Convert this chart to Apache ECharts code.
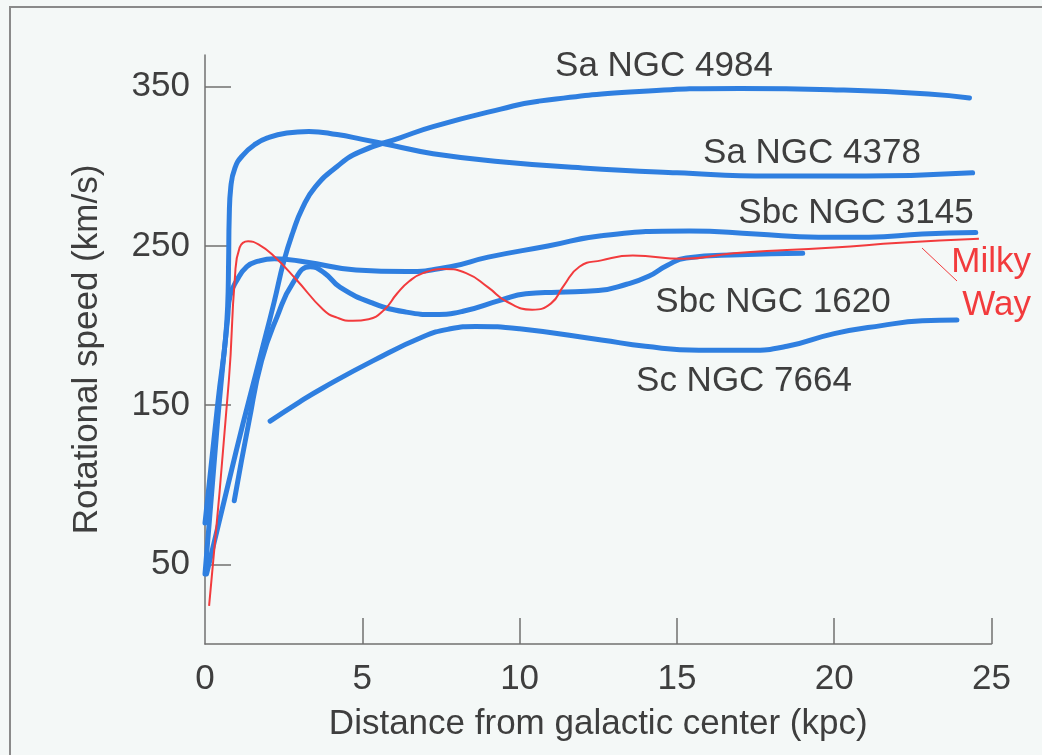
<!DOCTYPE html>
<html><head><meta charset="utf-8">
<script src="https://cdn.jsdelivr.net/npm/echarts@6/dist/echarts.min.js"></script>
<style>html,body{margin:0;padding:0;background:#f4f8f7;}#c{width:1042px;height:755px;}</style>
</head><body><div id="c"></div>
<script>
// Distance (kpc), rotational speed (km/s)
const ngc4984 = [[0.05,44],[1.0,122],[1.75,180],[2.2,215],[2.5,240],[2.8,259],[3.1,274],[3.5,287],[4.2,300],[4.9,309],[6.2,318],[7.25,325],[9.4,336],[10.6,341],[13.8,347],[17,349],[20.2,348],[23,345.5],[24.3,343]];
const ngc4378 = [[0,76],[0.4,150],[0.72,212],[0.75,240],[0.77,268],[0.82,287],[0.95,299],[1.2,307],[1.6,314],[2.0,318],[2.6,321],[3.3,322],[4.2,320],[5.0,317],[6.0,313],[7.25,308],[9.4,303],[12,299],[15,296],[18,294],[21,294],[24.4,296]];
const ngc3145 = [[0,44],[0.4,140],[0.72,205],[0.8,219],[1.0,228],[1.33,237],[1.7,240.5],[2.2,242],[3.2,240],[4.8,235],[6.4,234],[7.8,237],[9,243],[10.9,250],[12.6,256.5],[15.4,259.5],[17.5,257.5],[19.5,255.5],[21.1,255.5],[22.8,257.5],[24.5,258.5]];
const ngc1620 = [[0.93,90],[1.4,140],[1.8,178],[2.3,206],[2.8,227],[3.34,237],[3.8,233],[4.3,224],[5.35,214],[6.4,208.5],[7.3,207],[8.2,209],[9.4,216],[10.2,220],[11.2,221],[12.5,222],[13.4,226],[14.1,231],[14.7,238],[15.3,242.5],[17,244.5],[19,245.5]];
const ngc7664 = [[2.07,140],[3.0,152],[3.76,161],[5.35,178],[6.93,193],[7.8,198],[8.6,199.5],[10,198],[12.6,191],[14,187],[15.7,184.5],[17.3,184.5],[18.5,187],[20,195],[21.5,200],[22.8,203],[23.9,203.5]];
const milkyWay = [[0.13,24],[0.76,166],[0.95,230],[1.1,249],[1.37,253],[1.7,251],[2.17,244],[2.9,229],[3.76,210],[4.2,205],[4.7,203],[5.2,204],[5.7,210],[6.1,220],[6.5,228],[6.93,233],[7.6,235.5],[8.3,233],[9.0,224],[9.6,215],[10.4,210],[11.0,214],[11.4,225],[11.9,237],[12.6,241],[13.6,244],[15.2,242],[16.8,245.5],[18.5,247.5],[20,249],[22.1,252],[24.6,254.5]];
const yTicks = [50,150,250,350];
const xTicks = [5,10,15,20,25];
const xLabels = [0,5,10,15,20,25];
const galaxyNames = ['Sa NGC 4984','Sa NGC 4378','Sbc NGC 3145','Sbc NGC 1620','Sc NGC 7664'];

const BLUE = '#2f7fe0', RED = '#f23b3d', TXT = '#3e3e3e', AX = '#707070';
const FONT = '"Liberation Sans", Arial, sans-serif';

function blue(name, data){
  return {name, type:'line', data, showSymbol:false, smooth:0.5,
    lineStyle:{color:BLUE, width:5, cap:'round', join:'round'}, z:2, silent:true};
}

const chart = echarts.init(document.getElementById('c'), null, {renderer:'canvas'});
const labelPos = [[664,66],[812,153],[856,213],[773,302],[744,381]];
const graphics = [
  {type:'rect', shape:{x:10,y:7,width:1100,height:800}, style:{fill:'none', stroke:'#8a8a8a', lineWidth:2}, z:0},
  {type:'line', shape:{x1:922,y1:248,x2:957,y2:281}, style:{stroke:RED, lineWidth:1}, z:5}
];
galaxyNames.forEach((n,i)=>graphics.push({type:'text', x:labelPos[i][0], y:labelPos[i][1],
  style:{text:n, fill:TXT, font:'35px '+FONT, textAlign:'center', textVerticalAlign:'middle'}, z:5}));
graphics.push({type:'text', x:1031, y:262, style:{text:'Milky', fill:RED, font:'35px '+FONT, textAlign:'right', textVerticalAlign:'middle'}, z:5});
graphics.push({type:'text', x:1031, y:305, style:{text:'Way', fill:RED, font:'35px '+FONT, textAlign:'right', textVerticalAlign:'middle'}, z:5});

chart.setOption({
  animation:false,
  backgroundColor:'#f4f8f7',
  textStyle:{fontFamily:FONT},
  grid:{left:205, right:50.5, top:55, bottom:111},
  xAxis:{type:'value', min:0, max:25, interval:5,
    name:'Distance from galactic center (kpc)', nameLocation:'middle', nameGap:63,
    nameTextStyle:{fontSize:35, color:TXT, fontFamily:FONT},
    axisLine:{lineStyle:{color:AX, width:1.5}},
    axisTick:{inside:true, length:26, customValues:xTicks, lineStyle:{color:AX, width:1.5}},
    axisLabel:{customValues:xLabels, fontSize:35, color:TXT, margin:18, fontFamily:FONT},
    splitLine:{show:false}},
  yAxis:{type:'value', min:0, max:370,
    name:'Rotational speed (km/s)', nameLocation:'middle', nameGap:100,
    nameTextStyle:{fontSize:35, color:TXT, fontFamily:FONT},
    axisLine:{show:true, lineStyle:{color:AX, width:1.5}},
    axisTick:{show:true, inside:true, length:26, customValues:yTicks, lineStyle:{color:AX, width:1.5}},
    axisLabel:{customValues:yTicks, fontSize:35, color:TXT, margin:15, fontFamily:FONT},
    splitLine:{show:false}},
  series:[
    blue('Sa NGC 4984', ngc4984),
    blue('Sa NGC 4378', ngc4378),
    blue('Sbc NGC 3145', ngc3145),
    blue('Sbc NGC 1620', ngc1620),
    blue('Sc NGC 7664', ngc7664),
    {name:'Milky Way', type:'line', data:milkyWay, showSymbol:false, smooth:0.5,
      lineStyle:{color:RED, width:2, join:'round'}, z:3, silent:true}
  ],
  graphic:graphics
});
</script></body></html>
